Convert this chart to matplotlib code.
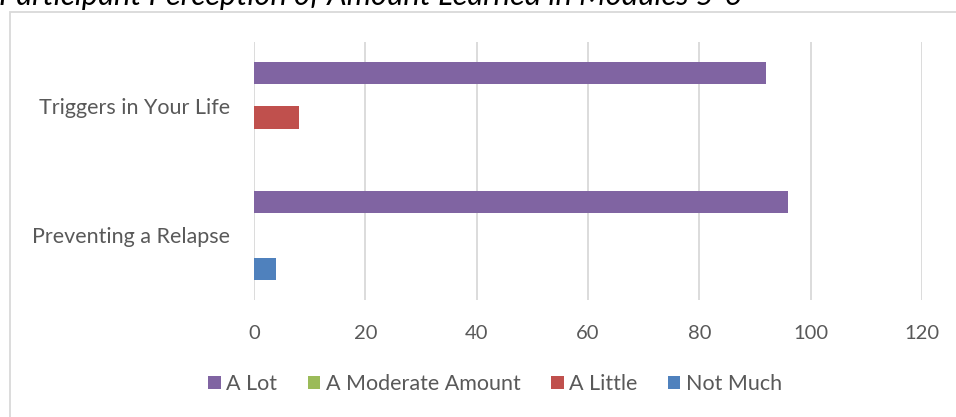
import matplotlib
matplotlib.use("Agg")
import matplotlib.pyplot as plt
from matplotlib.patches import Rectangle
import numpy as np

plt.rcParams['font.family'] = ['Lato', 'DejaVu Sans']

categories = ["Preventing a Relapse", "Triggers in Your Life"]
series_names = ["A Lot", "A Moderate Amount", "A Little", "Not Much"]
a_lot = [96, 92]
a_moderate = [0, 0]
a_little = [0, 8]
not_much = [4, 0]
series_values = [a_lot, a_moderate, a_little, not_much]
series_colors = ["#8064A2", "#9BBB59", "#C0504D", "#4F81BD"]
x_ticks = [0, 20, 40, 60, 80, 100, 120]
title = "Participant Perception of Amount Learned in Modules 5-6"

W, H = 956, 417
fig = plt.figure(figsize=(W / 100, H / 100), dpi=100)
fig.patch.set_facecolor("white")

# outer chart frame (extends past the right and bottom edges)
frame_top = 1 - 11.5 / H
fig.patches.append(Rectangle((9.5 / W, -0.05), 1.2, frame_top + 0.05,
                             transform=fig.transFigure, fill=False,
                             edgecolor="#D9D9D9", linewidth=1.3))

fig.text(-1 / W, 1 - 5 / H, title, fontsize=22.2, style="italic",
         ha="left", va="baseline", color="black")

ax = fig.add_axes([254 / W, 1 - 300 / H, (922 - 254) / W, (300 - 42) / H])

y = np.arange(len(categories))
h = 0.172
offsets = [1.5 * h, 0.5 * h, -0.5 * h, -1.5 * h]
for name, vals, col, off in zip(series_names, series_values, series_colors, offsets):
    ax.barh(y + off, vals, height=h, color=col, label=name, edgecolor="none")

ax.set_xlim(0, 120)
ax.set_ylim(-0.5, 1.5)
ax.set_xticks(x_ticks)
ax.set_yticks(y)
ax.set_yticklabels(categories)
ax.grid(axis="x", color="#D9D9D9", linewidth=1.3)
ax.set_axisbelow(True)
for s in ax.spines.values():
    s.set_visible(False)
ax.tick_params(axis="both", length=0, labelcolor="#595959")
ax.tick_params(axis="x", pad=18, labelsize=14.5)
ax.tick_params(axis="y", pad=17, labelsize=15.5)

handles, labels = ax.get_legend_handles_labels()
fig.legend(handles, labels, loc="center", bbox_to_anchor=(495 / W, 1 - 384 / H),
           ncol=4, frameon=False, fontsize=15.5, labelcolor="#595959",
           handlelength=0.6, handleheight=0.6, handletextpad=0.25,
           columnspacing=1.4, borderaxespad=0)

fig.savefig("out.png", dpi=100)
